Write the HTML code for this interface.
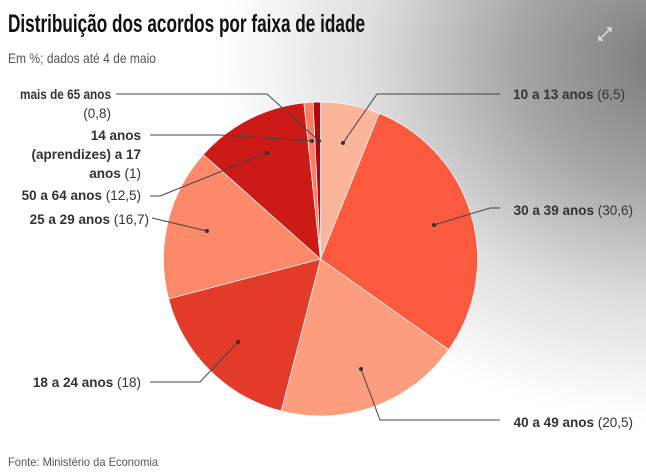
<!DOCTYPE html>
<html><head><meta charset="utf-8"><style>
html,body{margin:0;padding:0;}
body{width:646px;height:472px;overflow:hidden;background:#fff;font-family:"Liberation Sans",sans-serif;}
.bg{position:absolute;left:0;top:0;width:646px;height:472px;
background:radial-gradient(ellipse 460px 360px at 680px 60px,#777 0%,#a5a5a5 35%,#dedede 68%,rgba(255,255,255,0) 100%);}
svg{position:absolute;left:0;top:0;}
</style></head><body>
<div class="bg"></div>
<svg width="646" height="472" id="s" font-family="Liberation Sans, sans-serif">
<text x="8" y="32" font-size="25" font-weight="bold" fill="#111" textLength="357" lengthAdjust="spacingAndGlyphs">Distribuição dos acordos por faixa de idade</text>
<text x="8" y="63" font-size="14" fill="#555" textLength="148" lengthAdjust="spacingAndGlyphs">Em %; dados até 4 de maio</text>
<text x="8" y="466" font-size="12" fill="#555" textLength="150" lengthAdjust="spacingAndGlyphs">Fonte: Ministério da Economia</text>
<g stroke="#ddd" stroke-width="1.5" fill="none"><path d="M603 40 L611 32 M607 32 L611 32 L611 36 M603 40 L599 44 M599 40 L599 44 L603 44" transform="translate(0,-4)"/></g>
<g id="pie"></g>
<g stroke="#444" stroke-width="1" fill="none">
<polyline points="343,143 377,94 500,94"/>
<polyline points="434,225 490,208 500,208"/>
<polyline points="361,369 380,420 500,420"/>
<polyline points="238,342 200,382 150,382"/>
<polyline points="207,231 152,218"/>
<polyline points="267,153 160,196 150,196"/>
<polyline points="312,141 220,135 150,135"/>
<polyline points="319,141 267,94 116,94"/>
</g>
<g fill="#333">
<circle cx="343" cy="143" r="2"/><circle cx="434" cy="225" r="2"/><circle cx="361" cy="369" r="2"/><circle cx="238" cy="342" r="2"/><circle cx="207" cy="231" r="2"/><circle cx="267" cy="153" r="2"/><circle cx="312" cy="141" r="2"/><circle cx="319" cy="141" r="2"/>
</g>
<g font-size="13.5" fill="#333">
<text x="625" y="99" text-anchor="end"><tspan font-weight="bold">10 a 13 anos</tspan> (6,5)</text>
<text x="633" y="215" text-anchor="end"><tspan font-weight="bold">30 a 39 anos</tspan> (30,6)</text>
<text x="633" y="427" text-anchor="end"><tspan font-weight="bold">40 a 49 anos</tspan> (20,5)</text>
<text x="141" y="387" text-anchor="end"><tspan font-weight="bold">18 a 24 anos</tspan> (18)</text>
<text x="149" y="224" text-anchor="end"><tspan font-weight="bold">25 a 29 anos</tspan> (16,7)</text>
<text x="141" y="200" text-anchor="end"><tspan font-weight="bold">50 a 64 anos</tspan> (12,5)</text>
<text x="141" y="140" text-anchor="end" font-weight="bold">14 anos</text>
<text x="141" y="159" text-anchor="end"><tspan font-weight="bold">(aprendizes) a 17</tspan></text>
<text x="141" y="178" text-anchor="end"><tspan font-weight="bold">anos</tspan> (1)</text>
<text x="20" y="99" font-weight="bold" textLength="91" lengthAdjust="spacingAndGlyphs">mais de 65 anos</text>
<text x="111" y="118" text-anchor="end">(0,8)</text>
</g>
</svg>
<script>
(function(){
var d=[[6.5,"#fbb59a"],[30.6,"#fb5a3e"],[20.5,"#fc9d7e"],[18,"#e33b2a"],[16.7,"#fc8a6a"],[12.5,"#cc1a17"],[1,"#fc7e62"],[0.8,"#b0080e"]];
var tot=0;d.forEach(function(x){tot+=x[0];});
var cx=320.5,cy=259,r=157,a=0,g=document.getElementById("pie"),h="";
d.forEach(function(x){
var a2=a+x[0]/tot*2*Math.PI;
var x1=cx+r*Math.sin(a),y1=cy-r*Math.cos(a),x2=cx+r*Math.sin(a2),y2=cy-r*Math.cos(a2);
h+='<path d="M'+cx+' '+cy+' L'+x1+' '+y1+' A'+r+' '+r+' 0 '+((a2-a)>Math.PI?1:0)+' 1 '+x2+' '+y2+' Z" fill="'+x[1]+'" stroke="#fff" stroke-width="0.7"/>';
a=a2;});
g.innerHTML=h;
})();
</script>
</body></html>
